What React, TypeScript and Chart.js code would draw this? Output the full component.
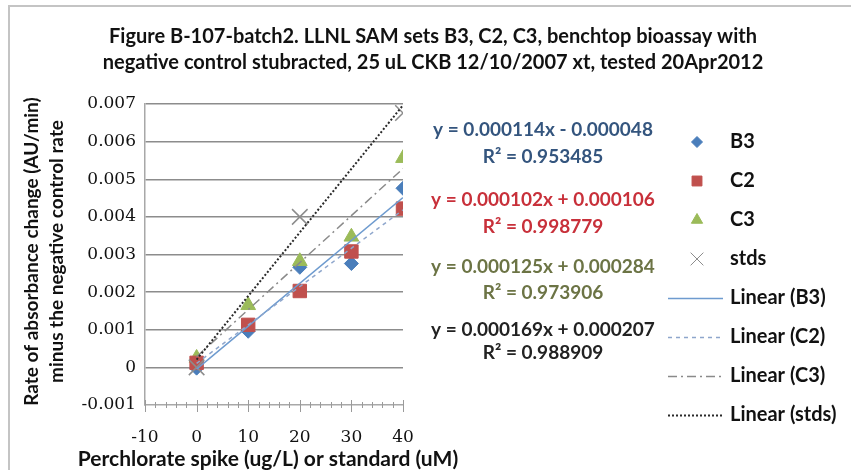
import React, { useEffect, useRef } from 'react';
import { Chart, registerables } from 'chart.js';
import { drawPoint } from 'chart.js/helpers';

Chart.register(...registerables);

// Perchlorate spike levels (ug/L) and measured rate differences (AU/min)
const spikes = [0, 10, 20, 30, 40];
const b3Rates = [-0.00002, 0.00096, 0.00266, 0.00276, 0.00476];
const c2Rates = [0.00012, 0.00113, 0.00203, 0.00308, 0.00422];
const c3Rates = [0.00025, 0.00165, 0.00282, 0.00347, 0.00556];
const stdLevels = [0, 20, 40];
const stdRates = [0.0, 0.004, 0.00676];

// Linear trendline fits, one per series
const seriesNames = ['B3', 'C2', 'C3', 'stds'];
const fitSlopes = [0.000114, 0.000102, 0.000125, 0.000169];
const fitIntercepts = [-0.000048, 0.000106, 0.000284, 0.000207];
const fitR2 = ['0.953485', '0.998779', '0.973906', '0.988909'];
const fitRange = [0, 40];

// Axis ranges
const xRange = [-10, 40];
const xMajorStep = 10;
const xMinorStep = 2;
const yRange = [-0.001, 0.007];
const yStep = 0.001;

const titleLines = [
  'Figure B-107-batch2. LLNL SAM sets B3, C2, C3, benchtop bioassay with',
  'negative control stubracted, 25 uL CKB 12/10/2007 xt, tested 20Apr2012',
];
const yTitleLines = ['Rate of absorbance change (AU/min)', 'minus the negative control rate'];
const xTitle = 'Perchlorate spike (ug/L) or standard (uM)';

const SANS = 'Lato, "Open Sans", sans-serif';
const SERIF = '"DejaVu Serif", serif';

const markerStyles = [
  { pointStyle: 'rectRot', color: '#4A7EBB', radius: 7, legendRadius: 5.5 },
  { pointStyle: 'rect', color: '#C0504D', radius: 9.5, legendRadius: 7 },
  { pointStyle: 'triangle', color: '#9BBB59', radius: 8.5, legendRadius: 6.5 },
  { pointStyle: 'crossRot', color: '#8C8C8C', radius: 11, legendRadius: 9 },
];
const trendStyles = [
  { color: '#6E9BCF', dash: [] as number[], width: 1.5 },
  { color: '#8EA6CC', dash: [4, 4], width: 1.5 },
  { color: '#8A8A8A', dash: [9, 4, 2, 4], width: 1.5 },
  { color: '#2A2A2A', dash: [2, 2], width: 2 },
];
const equationColors = ['#34557E', '#C8303A', '#6C7445', '#222222'];
const equationRows = [
  [130, 157],
  [200, 227],
  [267, 293],
  [330, 353],
];

const fmtEquation = (i: number) => {
  const b = fitIntercepts[i];
  const sign = b < 0 ? '-' : '+';
  return `y = ${fitSlopes[i].toFixed(6)}x ${sign} ${Math.abs(b).toFixed(6)}`;
};

const decorations = {
  id: 'decorations',
  beforeDraw(chart: any) {
    const { ctx, width, height } = chart;
    ctx.save();
    ctx.fillStyle = '#ffffff';
    ctx.fillRect(0, 0, width, height);
    // chart frame
    ctx.strokeStyle = '#C4C4C4';
    ctx.lineWidth = 2;
    ctx.beginPath();
    ctx.moveTo(9, height);
    ctx.lineTo(9, 6);
    ctx.lineTo(width, 6);
    ctx.stroke();
    ctx.restore();
  },
  afterDraw(chart: any) {
    const { ctx, chartArea } = chart;
    const xs = chart.scales.x;
    ctx.save();

    // title
    ctx.fillStyle = '#111';
    ctx.textAlign = 'center';
    ctx.textBaseline = 'middle';
    ctx.font = `bold 20px ${SANS}`;
    ctx.fillText(titleLines[0], 433, 37);
    ctx.fillText(titleLines[1], 433, 63);

    // x-axis minor and major tick marks
    ctx.strokeStyle = '#9A9A9A';
    ctx.lineWidth = 1;
    for (let v = xRange[0]; v <= xRange[1] + 1e-9; v += xMinorStep) {
      const px = Math.round(xs.getPixelForValue(v)) + 0.5;
      const major = Math.abs(v % xMajorStep) < 1e-9;
      ctx.beginPath();
      ctx.moveTo(px, chartArea.bottom - (major ? 5 : 3));
      ctx.lineTo(px, chartArea.bottom + (major ? 7 : 3));
      ctx.stroke();
    }

    // axis titles
    ctx.fillStyle = '#111';
    ctx.font = `bold 21px ${SANS}`;
    ctx.fillText(xTitle, 268, 459);
    ctx.font = `bold 19px ${SANS}`;
    const cy = (chartArea.top + chartArea.bottom) / 2 - 3;
    [32, 57].forEach((x, i) => {
      ctx.save();
      ctx.translate(x, cy);
      ctx.rotate(-Math.PI / 2);
      ctx.fillText(yTitleLines[i], 0, 0);
      ctx.restore();
    });

    // trendline equations
    ctx.font = `bold 19px ${SANS}`;
    equationRows.forEach((rows, i) => {
      ctx.fillStyle = equationColors[i];
      ctx.fillText(fmtEquation(i), 543, rows[0]);
      ctx.fillText(`R² = ${fitR2[i]}`, 543, rows[1]);
    });

    // legend
    const legendTop = 142;
    const rowGap = 39;
    ctx.textAlign = 'left';
    ctx.font = `bold 20px ${SANS}`;
    const entries = [
      ...seriesNames.map((n) => n),
      ...seriesNames.map((n) => `Linear (${n})`),
    ];
    entries.forEach((label, i) => {
      const y = legendTop + i * rowGap;
      if (i < 4) {
        const m = markerStyles[i];
        ctx.fillStyle = m.color;
        ctx.strokeStyle = m.color;
        ctx.lineWidth = 1;
        ctx.setLineDash([]);
        drawPoint(ctx, { pointStyle: m.pointStyle, radius: m.legendRadius, rotation: 0, borderWidth: 1 }, 697, y);
      } else {
        const t = trendStyles[i - 4];
        ctx.strokeStyle = t.color;
        ctx.lineWidth = t.width;
        ctx.setLineDash(t.dash);
        ctx.beginPath();
        ctx.moveTo(668, y + 0.5);
        ctx.lineTo(723, y + 0.5);
        ctx.stroke();
        ctx.setLineDash([]);
      }
      ctx.fillStyle = '#111';
      ctx.fillText(label, 730, y);
    });

    ctx.restore();
  },
};

export default function App() {
  const canvasRef = useRef<HTMLCanvasElement | null>(null);

  useEffect(() => {
    if (!canvasRef.current) return;

    const pointSets = [
      spikes.map((x, i) => ({ x, y: b3Rates[i] })),
      spikes.map((x, i) => ({ x, y: c2Rates[i] })),
      spikes.map((x, i) => ({ x, y: c3Rates[i] })),
      stdLevels.map((x, i) => ({ x, y: stdRates[i] })),
    ];
    // stacking: B3 lowest, then C3, C2, stds; trendlines above all markers
    const markerOrder = [14, 12, 13, 11];

    const markerSets = pointSets.map((data, i) => {
      const m = markerStyles[i];
      return {
        label: seriesNames[i],
        data,
        order: markerOrder[i],
        pointStyle: m.pointStyle,
        pointRadius: m.radius,
        pointBackgroundColor: m.color,
        pointBorderColor: m.color,
        pointBorderWidth: m.pointStyle === 'crossRot' ? 1.5 : 1,
        showLine: false,
      };
    });

    const trendSets = seriesNames.map((name, i) => {
      const t = trendStyles[i];
      return {
        label: `Linear (${name})`,
        data: fitRange.map((x) => ({ x, y: fitSlopes[i] * x + fitIntercepts[i] })),
        order: 4 - i,
        showLine: true,
        borderColor: t.color,
        borderWidth: t.width,
        borderDash: t.dash,
        pointRadius: 0,
        fill: false,
      };
    });

    const chart = new Chart(canvasRef.current, {
      type: 'scatter',
      data: { datasets: [...markerSets, ...trendSets] as any },
      options: {
        animation: false,
        responsive: false,
        devicePixelRatio: 1,
        layout: { padding: { left: 0, top: 104, right: 448, bottom: 0 } },
        plugins: {
          legend: { display: false },
          title: { display: false },
          tooltip: { enabled: false },
        },
        scales: {
          x: {
            type: 'linear',
            min: xRange[0],
            max: xRange[1],
            afterFit: (s: any) => {
              s.height = 65;
            },
            ticks: {
              stepSize: xMajorStep,
              padding: 22,
              color: '#111',
              font: { family: SERIF, size: 17 },
            },
            grid: { display: true, color: 'rgba(0,0,0,0)', drawTicks: false },
            border: { display: true, color: '#A8A8A8', width: 1.5 },
          },
          y: {
            type: 'linear',
            min: yRange[0],
            max: yRange[1],
            afterFit: (s: any) => {
              s.width = 145;
            },
            ticks: {
              stepSize: yStep,
              padding: 9,
              color: '#111',
              font: { family: SERIF, size: 17 },
              callback: (v: any) => (Math.abs(v) < 1e-9 ? '0' : Number(v).toFixed(3)),
            },
            grid: {
              drawTicks: false,
              color: (c: any) => (c.tick && c.tick.value < yRange[0] + yStep / 2 ? 'rgba(0,0,0,0)' : '#8C8C8C'),
              lineWidth: 1.5,
            },
            border: { display: true, color: '#A8A8A8', width: 1.5 },
          },
        },
      },
      plugins: [decorations],
    } as any);

    return () => chart.destroy();
  }, []);

  return (
    <div style={{ position: 'fixed', left: 0, top: 0, width: 851, height: 470, background: '#fff' }}>
      <canvas ref={canvasRef} width={851} height={470} style={{ display: 'block' }} />
    </div>
  );
}
